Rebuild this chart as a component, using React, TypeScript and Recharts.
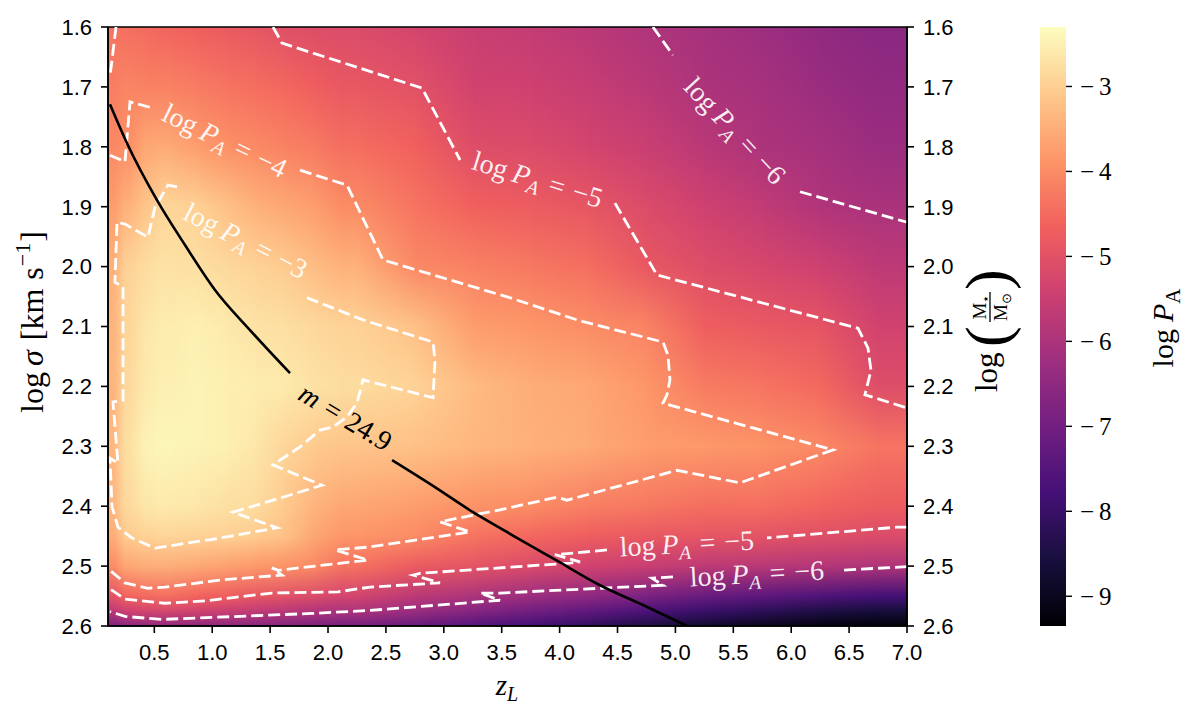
import React from 'react';
import { ComposedChart, XAxis, YAxis, Line, Scatter, ReferenceArea } from 'recharts';

const SANS = "'Liberation Sans', Arial, Helvetica, sans-serif";
const SERIF = "'Liberation Serif', 'Times New Roman', serif";

// ---------- axes ----------
const Z_MIN = 0.1;
const Z_MAX = 7.0;
const S_MIN = 1.6;
const S_MAX = 2.6;
const xTicks = [0.5, 1.0, 1.5, 2.0, 2.5, 3.0, 3.5, 4.0, 4.5, 5.0, 5.5, 6.0, 6.5, 7.0];
const yTicks = [1.6, 1.7, 1.8, 1.9, 2.0, 2.1, 2.2, 2.3, 2.4, 2.5, 2.6];

// ---------- colour scale (log P_A) ----------
const V_MIN = -9.35;
const V_MAX = -2.3;
const cbarTicks = [-9, -8, -7, -6, -5, -4, -3];
const MAGMA = ['#000004', '#180f3e', '#451077', '#721f81', '#9f2f7f', '#cd4071', '#f1605d', '#fd9567', '#fec98d', '#fcfdbf'];

// ---------- heat map (log P_A) ----------
const zEdges = [0.1, 0.2, 0.35, 0.5, 0.75, 1.0, 1.25, 1.5, 1.75, 2.0, 2.5, 3.0, 3.5, 4.0, 4.5, 5.0, 5.5, 6.0, 6.5, 7.0];
const sigmaStops = [1.6, 1.7, 1.8, 1.9, 2.0, 2.1, 2.2, 2.3, 2.4, 2.45, 2.5, 2.55, 2.575, 2.6];
const heat160 = [-4.35, -4.45, -4.5, -4.6, -4.7, -4.8, -4.9, -5.05, -5.1, -5.15, -5.3, -5.5, -5.6, -5.75, -5.95, -6.1, -6.25, -6.45, -6.6];
const heat170 = [-4.2, -4.1, -4.15, -4.15, -4.25, -4.35, -4.45, -4.55, -4.7, -4.85, -5.0, -5.35, -5.4, -5.55, -5.75, -6.0, -6.1, -6.3, -6.45];
const heat180 = [-4.05, -3.95, -3.6, -3.55, -3.75, -3.92, -4.03, -4.15, -4.25, -4.45, -4.65, -5.08, -5.15, -5.3, -5.5, -5.75, -6.0, -6.1, -6.3];
const heat190 = [-3.75, -3.45, -3.15, -2.9, -2.98, -3.2, -3.45, -3.6, -3.73, -4.0, -4.35, -4.65, -4.75, -4.9, -5.15, -5.4, -5.63, -5.92, -6.03];
const heat200 = [-3.45, -2.95, -2.8, -2.7, -2.75, -2.85, -2.95, -3.05, -3.26, -3.45, -4.05, -4.16, -4.3, -4.45, -4.85, -5.1, -5.25, -5.42, -5.71];
const heat210 = [-3.4, -2.9, -2.65, -2.55, -2.5, -2.6, -2.7, -2.75, -2.85, -2.95, -3.2, -3.75, -3.85, -3.98, -4.13, -4.71, -4.83, -4.94, -5.35];
const heat220 = [-3.4, -2.85, -2.6, -2.5, -2.45, -2.5, -2.55, -2.6, -2.7, -2.8, -2.95, -3.3, -3.5, -3.6, -3.85, -4.23, -4.35, -4.53, -5.08];
const heat230 = [-3.35, -2.75, -2.45, -2.4, -2.45, -2.5, -2.65, -2.9, -3.05, -3.15, -3.2, -3.35, -3.45, -3.55, -3.75, -3.8, -3.9, -4.05, -4.35];
const heat240 = [-3.35, -2.85, -2.65, -2.6, -2.65, -2.75, -2.8, -3.07, -3.4, -3.6, -3.75, -3.9, -4.0, -4.2, -4.3, -4.45, -4.45, -4.6, -4.75];
const heat245 = [-3.5, -3.05, -2.95, -2.9, -2.95, -2.97, -3.05, -3.2, -3.6, -3.85, -4.02, -4.35, -4.55, -4.71, -4.83, -4.9, -4.95, -5.05, -5.15];
const heat250 = [-4.0, -3.6, -3.5, -3.5, -3.58, -3.68, -3.8, -3.9, -4.03, -4.38, -4.78, -4.93, -5.17, -5.37, -5.5, -5.7, -5.77, -5.86, -5.95];
const heat255 = [-4.95, -4.6, -4.5, -4.45, -4.6, -4.7, -4.88, -5.0, -5.15, -5.32, -5.72, -6.0, -6.27, -6.5, -6.85, -7.15, -7.35, -7.6, -7.8];
const heat2575 = [-5.7, -5.4, -5.3, -5.27, -5.37, -5.5, -5.63, -5.75, -5.9, -6.0, -6.3, -6.65, -7.0, -7.3, -7.65, -7.95, -8.2, -8.45, -8.6];
const heat260 = [-6.8, -6.6, -6.5, -6.5, -6.5, -6.55, -6.6, -6.7, -6.8, -6.95, -7.2, -7.5, -7.8, -8.1, -8.45, -8.75, -9.0, -9.2, -9.3];
const heatGrid = [heat160, heat170, heat180, heat190, heat200, heat210, heat220, heat230, heat240, heat245, heat250, heat255, heat2575, heat260];

// ---------- contour lines [z_L, log sigma] ----------
const c6TopA = [[4.806, 1.6], [4.979, 1.647]];
const c6TopB = [[6.076, 1.875], [7.0, 1.926]];
const c5TopA = [[1.525, 1.6], [1.603, 1.627], [2.812, 1.702], [3.14, 1.822]];
const c5TopB = [[4.478, 1.894], [4.841, 2.014], [6.577, 2.103], [6.663, 2.136], [6.689, 2.173], [6.637, 2.214], [7.0, 2.236]];
const c4Corner = [[0.169, 1.6], [0.117, 1.683]];
const c4A = [[0.117, 1.814], [0.247, 1.825], [0.29, 1.725], [0.48, 1.735]];
const c4B = [[1.758, 1.839], [2.164, 1.864], [2.475, 1.989], [3.571, 2.052], [4.15, 2.089], [4.893, 2.126], [4.936, 2.148], [4.953, 2.189], [4.927, 2.214], [4.893, 2.228], [6.361, 2.306], [5.558, 2.361], [5.014, 2.34], [4.064, 2.39], [3.977, 2.385], [3.485, 2.406], [2.967, 2.426], [3.226, 2.443], [2.363, 2.468], [2.06, 2.473], [2.345, 2.49], [1.568, 2.507], [1.516, 2.503], [1.603, 2.515], [1.084, 2.523], [0.592, 2.535], [0.445, 2.537], [0.247, 2.528], [0.117, 2.507]];
const c3 = [[1.818, 2.052], [2.302, 2.089], [2.907, 2.126], [2.924, 2.156], [2.907, 2.219], [2.302, 2.189], [2.25, 2.228], [2.164, 2.251], [2.043, 2.268], [1.931, 2.273], [1.758, 2.301], [1.525, 2.331], [1.948, 2.365], [1.525, 2.39], [1.179, 2.41], [1.559, 2.436], [0.981, 2.456], [0.834, 2.46], [0.506, 2.47], [0.307, 2.453], [0.186, 2.435], [0.135, 2.401], [0.117, 2.32], [0.186, 2.328], [0.143, 2.226], [0.23, 2.223], [0.23, 2.034], [0.16, 2.026], [0.178, 1.926], [0.247, 1.929], [0.445, 1.951], [0.506, 1.901], [0.618, 1.864], [0.704, 1.867]];
const c5LowA = [[7.0, 2.435], [6.914, 2.435], [5.791, 2.453]];
const c5LowB = [[4.409, 2.473], [3.96, 2.481], [4.176, 2.493], [4.09, 2.495], [2.794, 2.512], [2.734, 2.515], [2.967, 2.528], [2.363, 2.535], [2.086, 2.543], [1.516, 2.545], [0.938, 2.558], [0.592, 2.562], [0.247, 2.555], [0.117, 2.538]];
const c6LowA = [[7.0, 2.501], [6.421, 2.507]];
const c6LowB = [[4.979, 2.518], [4.798, 2.52], [4.893, 2.532], [3.485, 2.545], [3.312, 2.545], [3.485, 2.557], [2.363, 2.574], [1.862, 2.579], [0.566, 2.589], [0.247, 2.584], [0.117, 2.576]];
const contourSegs = [c6TopA, c6TopB, c5TopA, c5TopB, c4Corner, c4A, c4B, c3, c5LowA, c5LowB, c6LowA, c6LowB];

// m = 24.9 curve
const mCurveA = [[0.117, 1.729], [0.264, 1.794], [0.523, 1.889], [0.765, 1.964], [1.024, 2.039], [1.326, 2.106], [1.672, 2.178]];
const mCurveB = [[2.553, 2.323], [2.907, 2.366], [3.252, 2.41], [3.571, 2.446], [3.977, 2.491], [4.349, 2.532], [4.72, 2.565], [5.1, 2.6]];

// labels
const contourLabels = [
  { z: 5.506, s: 1.775, level: 6, angle: 47 },
  { z: 3.805, s: 1.857, level: 5, angle: 17 },
  { z: 1.102, s: 1.792, level: 4, angle: 26 },
  { z: 1.283, s: 1.959, level: 3, angle: 27 },
  { z: 5.1, s: 2.465, level: 5, angle: -3 },
  { z: 5.705, s: 2.515, level: 6, angle: -3 },
];
const mLabel = [{ z: 2.147, s: 2.253, value: '24.9', angle: 31 }];

const toPts = (a: number[][]) => a.map(([z, s]) => ({ z, s }));

function hexToRgb(h: string) {
  return [parseInt(h.slice(1, 3), 16), parseInt(h.slice(3, 5), 16), parseInt(h.slice(5, 7), 16)];
}
function magma(v: number) {
  const t = Math.max(0, Math.min(1, (v - V_MIN) / (V_MAX - V_MIN)));
  const p = t * (MAGMA.length - 1);
  const i = Math.min(MAGMA.length - 2, Math.floor(p));
  const f = p - i;
  const a = hexToRgb(MAGMA[i]);
  const b = hexToRgb(MAGMA[i + 1]);
  const c = a.map((x, k) => Math.round(x + (b[k] - x) * f));
  return `rgb(${c[0]},${c[1]},${c[2]})`;
}

// each column is drawn slightly wider and faded in on its left side, so neighbouring
// columns blend into each other instead of showing hard vertical seams
const makeCell = (i: number) => (p: any) => {
  const n = zEdges.length - 1;
  const pxPerZ = p.width / (zEdges[i + 1] - zEdges[i]);
  const half = (k: number) => 0.5 * Math.min(zEdges[k] - zEdges[k - 1], zEdges[k + 1] - zEdges[k]) * pxPerZ;
  const eL = i > 0 ? half(i) : 0;
  const eR = i < n - 1 ? half(i + 1) : 0;
  const X = p.x - eL;
  const W = p.width + eL + eR;
  if (eL === 0) {
    return <rect x={X} y={p.y} width={W} height={p.height} fill={p.fill} />;
  }
  return (
    <g>
      <defs>
        <linearGradient id={`fade${i}`} x1="0" y1="0" x2="1" y2="0">
          <stop offset="0" stopColor="#000" />
          <stop offset={(2 * eL) / W} stopColor="#fff" />
          <stop offset="1" stopColor="#fff" />
        </linearGradient>
        <mask id={`mask${i}`} maskUnits="userSpaceOnUse" x={X} y={p.y} width={W} height={p.height}>
          <rect x={X} y={p.y} width={W} height={p.height} fill={`url(#fade${i})`} />
        </mask>
      </defs>
      <rect x={X} y={p.y} width={W} height={p.height} fill={p.fill} mask={`url(#mask${i})`} />
    </g>
  );
};
const cellShapes = zEdges.slice(0, -1).map((_, i) => makeCell(i));

const ContourLabel = (p: any) => {
  const { cx, cy } = p;
  if (cx == null || cy == null) return <g />;
  const d = p.payload ?? p;
  const fs = 28;
  return (
    <text x={cx} y={cy} transform={`rotate(${d.angle} ${cx} ${cy})`} textAnchor="middle" fontFamily={SERIF} fontSize={fs} fill="#ffffff" fillOpacity={0.92}>
      <tspan dy="0.28em">log</tspan>
      <tspan dx={6} fontStyle="italic">P</tspan>
      <tspan dy={6} fontSize={fs * 0.7} fontStyle="italic">A</tspan>
      <tspan dy={-6} dx={9}>=</tspan>
      <tspan dx={9}>{'\u2212'}</tspan>
      <tspan>{d.level}</tspan>
    </text>
  );
};

const MLabel = (p: any) => {
  const { cx, cy } = p;
  if (cx == null || cy == null) return <g />;
  const d = p.payload ?? p;
  return (
    <text x={cx} y={cy} transform={`rotate(${d.angle} ${cx} ${cy})`} textAnchor="middle" fontFamily={SERIF} fontSize={28} fill="#000">
      <tspan dy="0.3em" fontStyle="italic">m</tspan>
      <tspan dx={9}>=</tspan>
      <tspan dx={9}>{d.value}</tspan>
    </text>
  );
};

const tickStyle = { fill: '#000', fontSize: 22, fontFamily: SANS };
const tickLine = { stroke: '#000', strokeWidth: 1.6 };
const axisLine = { stroke: '#000', strokeWidth: 1.6 };

export default function App() {
  const cols = zEdges.slice(0, -1).map((z0, i) => ({ z0, z1: zEdges[i + 1], i }));
  return (
    <div style={{ position: 'relative', width: 1180, height: 700, background: '#fff' }}>
      <svg width={0} height={0} style={{ position: 'absolute' }}>
        <defs>
          {cols.map((c) => (
            <linearGradient key={c.i} id={`hm${c.i}`} x1="0" y1="0" x2="0" y2="1">
              {sigmaStops.map((s, j) => (
                <stop key={j} offset={(s - S_MIN) / (S_MAX - S_MIN)} stopColor={magma(heatGrid[j][c.i])} />
              ))}
            </linearGradient>
          ))}
          <linearGradient id="cbar" x1="0" y1="0" x2="0" y2="1">
            {MAGMA.map((_, k) => (
              <stop key={k} offset={k / (MAGMA.length - 1)} stopColor={MAGMA[MAGMA.length - 1 - k]} />
            ))}
          </linearGradient>
        </defs>
      </svg>

      <div style={{ position: 'absolute', left: 0, top: 0 }}>
        <ComposedChart width={1000} height={700} margin={{ top: 19, right: 41, bottom: 42, left: 40 }}>
          <XAxis
            type="number"
            dataKey="z"
            domain={[Z_MIN, Z_MAX]}
            ticks={xTicks}
            interval={0}
            allowDataOverflow
            tickFormatter={(v: number) => v.toFixed(1)}
            tickSize={7}
            tickMargin={11}
            height={40}
            tick={tickStyle}
            tickLine={tickLine}
            axisLine={axisLine}
          />
          <YAxis
            yAxisId="l"
            type="number"
            dataKey="s"
            domain={[S_MIN, S_MAX]}
            reversed
            ticks={yTicks}
            interval={0}
            allowDataOverflow
            tickFormatter={(v: number) => v.toFixed(1)}
            width={60}
            tickSize={7}
            tickMargin={9}
            tick={tickStyle}
            tickLine={tickLine}
            axisLine={axisLine}
          />
          <YAxis
            yAxisId="r"
            orientation="right"
            type="number"
            domain={[S_MIN, S_MAX]}
            reversed
            ticks={yTicks}
            interval={0}
            allowDataOverflow
            tickFormatter={(v: number) => v.toFixed(1)}
            width={60}
            tickSize={7}
            tickMargin={9}
            tick={tickStyle}
            tickLine={tickLine}
            axisLine={axisLine}
          />
          {cols.map((c) => (
            <ReferenceArea
              key={'hm' + c.i}
              yAxisId="l"
              x1={c.z0}
              x2={c.z1}
              y1={S_MIN}
              y2={S_MAX}
              fill={`url(#hm${c.i})`}
              fillOpacity={1}
              stroke="none"
              shape={cellShapes[c.i]}
            />
          ))}
          <ReferenceArea yAxisId="l" x1={Z_MIN} x2={Z_MAX} y1={S_MIN} y2={S_MAX} fill="none" fillOpacity={0} stroke="#000" strokeWidth={1.6} />
          {contourSegs.map((seg, i) => (
            <Line
              key={'c' + i}
              yAxisId="l"
              data={toPts(seg)}
              dataKey="s"
              type="linear"
              stroke="#ffffff"
              strokeWidth={2.8}
              strokeDasharray="12 5"
              dot={false}
              activeDot={false}
              isAnimationActive={false}
            />
          ))}
          {[mCurveA, mCurveB].map((seg, i) => (
            <Line
              key={'m' + i}
              yAxisId="l"
              data={toPts(seg)}
              dataKey="s"
              type="monotone"
              stroke="#000"
              strokeWidth={2.6}
              dot={false}
              activeDot={false}
              isAnimationActive={false}
            />
          ))}
          <Scatter yAxisId="l" data={contourLabels} dataKey="s" shape={ContourLabel} isAnimationActive={false} />
          <Scatter yAxisId="l" data={mLabel} dataKey="s" shape={MLabel} isAnimationActive={false} />
        </ComposedChart>
      </div>

      <div style={{ position: 'absolute', left: 1032, top: 0 }}>
        <ComposedChart width={123} height={700} margin={{ top: 19, right: 37, bottom: 82, left: 0 }} data={[{ x: 0 }, { x: 1 }]}>
          <XAxis type="number" dataKey="x" domain={[0, 1]} hide />
          <YAxis
            type="number"
            orientation="right"
            domain={[V_MIN, V_MAX]}
            ticks={cbarTicks}
            interval={0}
            allowDataOverflow
            width={60}
            tickSize={6}
            tickMargin={8}
            axisLine={false}
            tickLine={{ stroke: '#000', strokeWidth: 1.4 }}
            tick={{ fill: '#000', fontSize: 25, fontFamily: SERIF }}
            tickFormatter={(v: number) => '\u2212\u2009' + Math.abs(v)}
          />
          <ReferenceArea x1={0} x2={1} y1={V_MIN} y2={V_MAX} fill="url(#cbar)" fillOpacity={1} stroke="none" />
        </ComposedChart>
      </div>

      <svg width={1180} height={700} style={{ position: 'absolute', left: 0, top: 0, pointerEvents: 'none' }}>
        {/* left axis title */}
        <text x={35} y={314} transform="rotate(-90 35 314)" textAnchor="middle" fontFamily={SERIF} fontSize={32} fill="#000">
          <tspan>log</tspan>
          <tspan dx={6} fontStyle="italic">σ</tspan>
          <tspan dx={10}>[km</tspan>
          <tspan dx={9}>s</tspan>
          <tspan dy={-13} dx={1} fontSize={22}>{'\u22121'}</tspan>
          <tspan dy={13} dx={1}>]</tspan>
        </text>
        {/* bottom axis title */}
        <text x={499} y={687} textAnchor="middle" fontFamily={SERIF} fontSize={29} fill="#000" fontStyle="italic">
          <tspan>z</tspan>
          <tspan dy={6} fontSize={20}>L</tspan>
        </text>
        {/* right axis title */}
        <g transform="translate(989 322) rotate(-90)" fontFamily={SERIF} fill="#000">
          <text x={-62} y={0} fontSize={31}>log</text>
          <text x={-17} y={11} fontSize={62}>(</text>
          <text x={23} y={-11} fontSize={19} textAnchor="middle">
            M<tspan dy={4} fontSize={13}>⋆</tspan>
          </text>
          <line x1={8} x2={38} y1={-7} y2={-7} stroke="#000" strokeWidth={1.3} />
          <text x={23} y={10} fontSize={19} textAnchor="middle">
            M<tspan dy={4} fontSize={13}>⊙</tspan>
          </text>
          <text x={40} y={11} fontSize={62}>)</text>
        </g>
        {/* colorbar title */}
        <text x={1165} y={320} transform="rotate(-90 1165 320)" textAnchor="middle" fontFamily={SERIF} fontSize={30} fill="#000">
          <tspan>log</tspan>
          <tspan dx={7} fontStyle="italic">P</tspan>
          <tspan dy={7} fontSize={21}>A</tspan>
        </text>
      </svg>
    </div>
  );
}
